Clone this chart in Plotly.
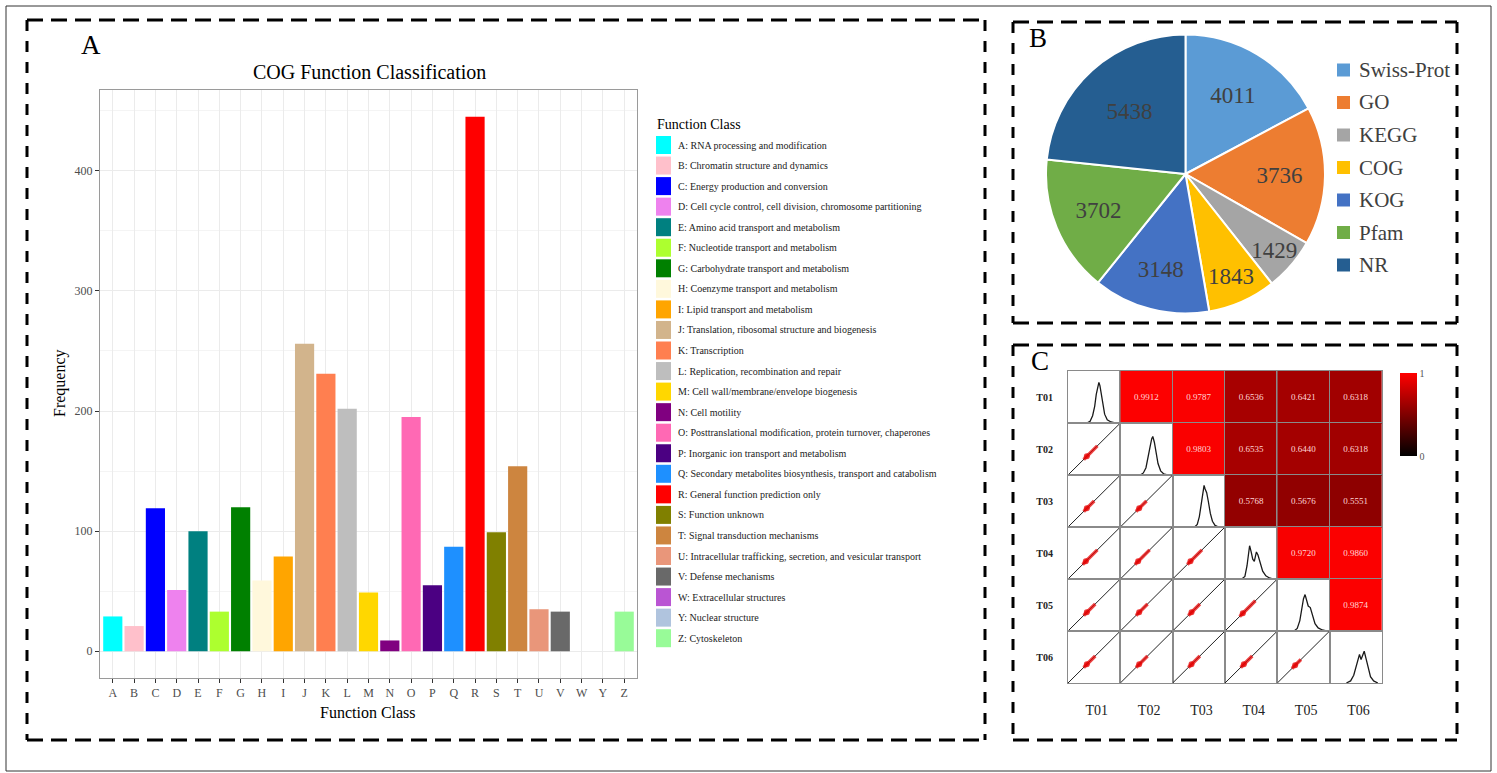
import plotly.graph_objects as go

W, H = 1497, 773
SERIF = "Liberation Serif, Times New Roman, serif"

# ---------------- data ----------------
cog_letters = ["A", "B", "C", "D", "E", "F", "G", "H", "I", "J", "K", "L", "M",
               "N", "O", "P", "Q", "R", "S", "T", "U", "V", "W", "Y", "Z"]
cog_counts = [29, 21, 119, 51, 100, 33, 120, 59, 79, 256, 231, 202, 49,
              9, 195, 55, 87, 445, 99, 154, 35, 33, 0, 0, 33]
cog_labels = [
    "A: RNA processing and modification",
    "B: Chromatin structure and dynamics",
    "C: Energy production and conversion",
    "D: Cell cycle control, cell division, chromosome partitioning",
    "E: Amino acid transport and metabolism",
    "F: Nucleotide transport and metabolism",
    "G: Carbohydrate transport and metabolism",
    "H: Coenzyme transport and metabolism",
    "I: Lipid transport and metabolism",
    "J: Translation, ribosomal structure and biogenesis",
    "K: Transcription",
    "L: Replication, recombination and repair",
    "M: Cell wall/membrane/envelope biogenesis",
    "N: Cell motility",
    "O: Posttranslational modification, protein turnover, chaperones",
    "P: Inorganic ion transport and metabolism",
    "Q: Secondary metabolites biosynthesis, transport and catabolism",
    "R: General function prediction only",
    "S: Function unknown",
    "T: Signal transduction mechanisms",
    "U: Intracellular trafficking, secretion, and vesicular transport",
    "V: Defense mechanisms",
    "W: Extracellular structures",
    "Y: Nuclear structure",
    "Z: Cytoskeleton",
]
cog_colors = ["#00FFFF", "#FFC0CB", "#0000FF", "#EE82EE", "#008080", "#ADFF2F",
              "#008000", "#FFF8DC", "#FFA500", "#D2B48C", "#FF7F50", "#BEBEBE",
              "#FFD700", "#800080", "#FF69B4", "#4B0082", "#1E90FF", "#FF0000",
              "#808000", "#CD853F", "#E9967A", "#696969", "#BA55D3", "#B0C4DE",
              "#98FB98"]
cog_ticks = [0, 100, 200, 300, 400]

db_names = ["Swiss-Prot", "GO", "KEGG", "COG", "KOG", "Pfam", "NR"]
db_counts = [4011, 3736, 1429, 1843, 3148, 3702, 5438]
db_colors = ["#5B9BD5", "#ED7D31", "#A5A5A5", "#FFC000", "#4472C4", "#70AD47", "#255E91"]

samples = ["T01", "T02", "T03", "T04", "T05", "T06"]
corr = [
    [1.0, 0.9912, 0.9787, 0.6536, 0.6421, 0.6318],
    [0.9912, 1.0, 0.9803, 0.6535, 0.6440, 0.6318],
    [0.9787, 0.9803, 1.0, 0.5768, 0.5676, 0.5551],
    [0.6536, 0.6535, 0.5768, 1.0, 0.9720, 0.9860],
    [0.6421, 0.6440, 0.5676, 0.9720, 1.0, 0.9874],
    [0.6318, 0.6318, 0.5551, 0.9860, 0.9874, 1.0],
]
# density curves on the diagonal (x and height, both as fraction of the cell)
dens_x = [
    [0.36, 0.42, 0.47, 0.51, 0.54, 0.57, 0.59, 0.61, 0.63, 0.66, 0.70, 0.75, 0.82, 0.90],
    [0.38, 0.44, 0.49, 0.54, 0.57, 0.60, 0.62, 0.65, 0.68, 0.72, 0.77, 0.83, 0.90],
    [0.42, 0.47, 0.51, 0.55, 0.58, 0.60, 0.62, 0.65, 0.68, 0.72, 0.76, 0.81, 0.88],
    [0.32, 0.38, 0.42, 0.45, 0.47, 0.50, 0.53, 0.56, 0.60, 0.63, 0.67, 0.72, 0.78, 0.85, 0.92],
    [0.32, 0.38, 0.43, 0.47, 0.50, 0.53, 0.56, 0.59, 0.63, 0.67, 0.72, 0.78, 0.86, 0.94],
    [0.32, 0.40, 0.46, 0.50, 0.54, 0.57, 0.60, 0.63, 0.66, 0.70, 0.74, 0.78, 0.84, 0.92],
]
dens_y = [
    [0.0, 0.03, 0.14, 0.32, 0.55, 0.70, 0.78, 0.72, 0.58, 0.38, 0.17, 0.06, 0.02, 0.0],
    [0.0, 0.04, 0.14, 0.36, 0.55, 0.70, 0.74, 0.63, 0.44, 0.22, 0.08, 0.02, 0.0],
    [0.0, 0.05, 0.20, 0.46, 0.70, 0.80, 0.73, 0.66, 0.50, 0.26, 0.11, 0.03, 0.0],
    [0.0, 0.05, 0.25, 0.50, 0.64, 0.52, 0.38, 0.34, 0.52, 0.46, 0.30, 0.15, 0.06, 0.02, 0.0],
    [0.0, 0.05, 0.20, 0.45, 0.62, 0.70, 0.58, 0.48, 0.45, 0.30, 0.14, 0.06, 0.02, 0.0],
    [0.0, 0.04, 0.15, 0.30, 0.48, 0.55, 0.45, 0.52, 0.61, 0.45, 0.25, 0.12, 0.04, 0.0],
]
# extent of the red scatter cloud along the diagonal of each lower cell
blob_lo = [
    [None] * 6,
    [0.30, None, None, None, None, None],
    [0.30, 0.30, None, None, None, None],
    [0.28, 0.28, 0.28, None, None, None],
    [0.30, 0.30, 0.30, 0.28, None, None],
    [0.30, 0.30, 0.30, 0.30, 0.28, None],
]
blob_hi = [
    [None] * 6,
    [0.56, None, None, None, None, None],
    [0.50, 0.50, None, None, None, None],
    [0.56, 0.56, 0.56, None, None, None],
    [0.52, 0.52, 0.52, 0.58, None, None],
    [0.52, 0.52, 0.52, 0.52, 0.45, None],
]


def fx(p):
    return p / W


def fy(p):
    return 1 - p / H


def note(text, x, y, size, color="black", xanchor="center", yanchor="middle", **kw):
    return dict(text=text, x=fx(x), y=fy(y), xref="paper", yref="paper", showarrow=False,
                xanchor=xanchor, yanchor=yanchor,
                font=dict(family=SERIF, size=size, color=color), **kw)


fig = go.Figure()
shapes = []
annotations = []

# ---------------- Panel A: bar chart ----------------
fig.add_trace(go.Bar(x=cog_letters, y=cog_counts, marker=dict(color=cog_colors, line=dict(width=0)),
                     width=0.9, xaxis="x", yaxis="y", hoverinfo="x+y"))

axis_font = dict(family=SERIF, size=12, color="#4D4D4D")
layout_axes = {}
layout_axes["xaxis"] = dict(domain=[fx(100), fx(637)], anchor="y", type="category",
                            categoryorder="array", categoryarray=cog_letters,
                            range=[-0.6, len(cog_letters) - 0.4], showgrid=True,
                            gridcolor="#EBEBEB", gridwidth=1, ticks="outside", ticklen=4,
                            tickcolor="#333333", tickfont=axis_font, showline=True, mirror=True,
                            linecolor="#9a9a9a", linewidth=1, zeroline=False)
layout_axes["yaxis"] = dict(domain=[fy(678), fy(90)], anchor="x", range=[-22.25, 467.25],
                            tickvals=cog_ticks, showgrid=True, gridcolor="#EBEBEB", gridwidth=1,
                            minor=dict(dtick=50, tick0=0, showgrid=True, gridcolor="#F4F4F4", gridwidth=1),
                            ticks="outside", ticklen=4, tickcolor="#333333", tickfont=axis_font,
                            showline=True, mirror=True, linecolor="#9a9a9a", linewidth=1,
                            zeroline=False)

annotations += [
    note("A", 91, 45, 27),
    note("COG Function Classification", 369, 72, 20),
    note("Frequency", 60, 383, 16, textangle=-90),
    note("Function Class", 368, 712, 16),
    note("Function Class", 655, 124, 14, xanchor="left"),
]
for i, (lab, col) in enumerate(zip(cog_labels, cog_colors)):
    cy = 145 + i * 20.55
    shapes.append(dict(type="rect", xref="paper", yref="paper", x0=fx(656), x1=fx(671),
                       y0=fy(cy + 9), y1=fy(cy - 9), fillcolor=col, line=dict(width=0)))
    annotations.append(note(lab, 676, cy, 10, color="#222222", xanchor="left"))

# ---------------- Panel B: pie ----------------
fig.add_trace(go.Pie(labels=db_names, values=db_counts, sort=False, direction="clockwise",
                     rotation=0, marker=dict(colors=db_colors, line=dict(color="white", width=2)),
                     domain=dict(x=[fx(1046), fx(1325)], y=[fy(313.5), fy(34.5)]),
                     textinfo="value", textposition="inside", insidetextorientation="horizontal",
                     textfont=dict(family=SERIF, size=23, color="#404040"), showlegend=False))
annotations.append(note("B", 1038, 38, 27))
for i, (nm, col) in enumerate(zip(db_names, db_colors)):
    cy = 70 + i * 32.5
    shapes.append(dict(type="rect", xref="paper", yref="paper", x0=fx(1337), x1=fx(1350),
                       y0=fy(cy + 6.5), y1=fy(cy - 6.5), fillcolor=col, line=dict(width=0)))
    annotations.append(note(nm, 1357, cy, 21, color="#404040", xanchor="left"))

# ---------------- Panel C: correlation matrix ----------------
gx0, gx1, gy0, gy1 = 1068, 1382, 371, 683
cw = (gx1 - gx0) / 6
ch = (gy1 - gy0) / 6
n_s = len(samples)
for r in range(n_s):
    for c in range(n_s):
        n = 2 + r * n_s + c
        xa, ya = f"x{n}", f"y{n}"
        upper = c > r
        rng = [-0.5, 0.5] if upper else [0, 1]
        xd = dict(domain=[fx(gx0 + c * cw), fx(gx0 + (c + 1) * cw)], anchor=ya, range=rng,
                  showgrid=False, zeroline=False, showline=True, mirror=True,
                  linecolor="#8a8a8a", linewidth=1, ticks="", showticklabels=False, fixedrange=True)
        yd = dict(domain=[fy(gy0 + (r + 1) * ch), fy(gy0 + r * ch)], anchor=xa, range=rng,
                  showgrid=False, zeroline=False, showline=True, mirror=True,
                  linecolor="#8a8a8a", linewidth=1, ticks="", showticklabels=False, fixedrange=True)
        if r == n_s - 1:
            xd.update(showticklabels=True, tickvals=[0.55], ticktext=[samples[c]],
                      tickfont=dict(family=SERIF, size=14, color="#222222"), ticklabelstandoff=14)
        if c == 0:
            yd.update(showticklabels=True, tickvals=[0.5], ticktext=[f"<b>{samples[r]}</b>"],
                      tickfont=dict(family=SERIF, size=10, color="#222222"), ticklabelstandoff=12)
        layout_axes[f"xaxis{n}"] = xd
        layout_axes[f"yaxis{n}"] = yd
        if upper:
            fig.add_trace(go.Heatmap(z=[[corr[r][c]]], x=[0], y=[0], coloraxis="coloraxis",
                                     texttemplate="%{z:.4f}",
                                     textfont=dict(family=SERIF, size=9, color="#ffd6d6"),
                                     xaxis=xa, yaxis=ya, hoverinfo="z"))
        elif r == c:
            fig.add_trace(go.Scatter(x=dens_x[r], y=dens_y[r], mode="lines",
                                     line=dict(color="#1a1a1a", width=1.3), xaxis=xa, yaxis=ya,
                                     showlegend=False, hoverinfo="skip"))
        else:
            fig.add_trace(go.Scatter(x=[0, 1], y=[0, 1], mode="lines",
                                     line=dict(color="#222222", width=1), xaxis=xa, yaxis=ya,
                                     showlegend=False, hoverinfo="skip"))
            lo, hi = blob_lo[r][c], blob_hi[r][c]
            fig.add_trace(go.Scatter(x=[lo, hi], y=[lo, hi], mode="lines",
                                     line=dict(color="rgba(230,0,0,0.75)", width=3.5),
                                     xaxis=xa, yaxis=ya, showlegend=False, hoverinfo="skip"))
            fig.add_trace(go.Scatter(x=[lo + 0.06], y=[lo + 0.06], mode="markers",
                                     marker=dict(color="rgba(230,0,0,0.75)", size=6),
                                     xaxis=xa, yaxis=ya, showlegend=False, hoverinfo="skip"))

annotations.append(note("C", 1040, 361, 27))

# ---------------- frames ----------------
def dashed_box(x0, y0, x1, y1):
    out = []
    for (a, b, c_, d) in [(x0, y0, x1, y0), (x0, y1, x1, y1)]:
        out.append(dict(type="line", xref="paper", yref="paper", x0=fx(a), y0=fy(b), x1=fx(c_),
                        y1=fy(d), line=dict(color="black", width=3, dash="16px,8px")))
    for (a, b, c_, d) in [(x0, y0, x0, y1), (x1, y0, x1, y1)]:
        out.append(dict(type="line", xref="paper", yref="paper", x0=fx(a), y0=fy(b), x1=fx(c_),
                        y1=fy(d), line=dict(color="black", width=3, dash="11px,10px")))
    return out


shapes += dashed_box(27, 20, 985, 740)
shapes += dashed_box(1013, 22, 1457, 323)
shapes += dashed_box(1013, 345, 1457, 740)
shapes.append(dict(type="rect", xref="paper", yref="paper", x0=fx(6), y0=fy(771), x1=fx(1491),
                   y1=fy(6), line=dict(color="#333333", width=1), fillcolor="rgba(0,0,0,0)"))

fig.update_layout(
    width=W, height=H, margin=dict(l=0, r=0, t=0, b=0, autoexpand=False),
    paper_bgcolor="white", plot_bgcolor="white", showlegend=False,
    font=dict(family=SERIF),
    uniformtext=dict(minsize=22, mode="show"),
    coloraxis=dict(colorscale=[[0, "#000000"], [1, "#FF0000"]], cmin=0, cmax=1,
                   colorbar=dict(x=fx(1400), xanchor="left", y=fy(414.5), yanchor="middle",
                                 len=83, lenmode="pixels", thickness=17, thicknessmode="pixels",
                                 tickvals=[0, 1], ticktext=["0", "1"], ticks="",
                                 tickfont=dict(family=SERIF, size=10, color="#555555"),
                                 outlinewidth=0, xpad=0, ypad=0)),
    shapes=shapes, annotations=annotations,
    **layout_axes,
)

fig.write_html("out.html")
